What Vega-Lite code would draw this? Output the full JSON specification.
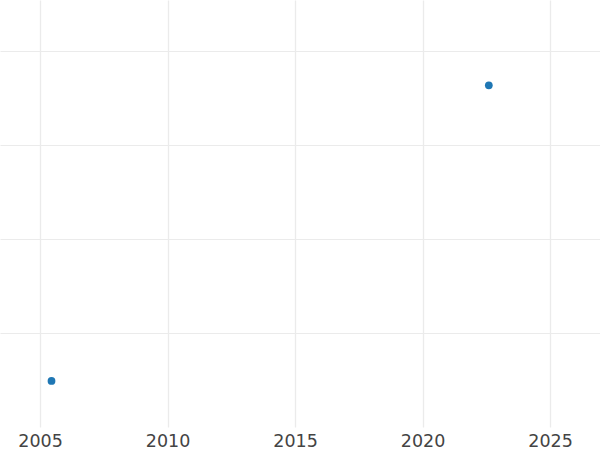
{
  "$schema": "https://vega.github.io/schema/vega-lite/v6.json",
  "width": 600,
  "height": 427,
  "padding": {"left": 0, "top": 0, "right": 0, "bottom": 23},
  "autosize": {"type": "none"},
  "background": "white",
  "data": {"values": [
    {"year": 2005.45, "value": 0.49},
    {"year": 2022.6, "value": 3.635}
  ]},
  "mark": {"type": "circle", "size": 60, "opacity": 1, "color": "#1f77b4"},
  "encoding": {
    "x": {"field": "year", "type": "quantitative",
      "scale": {"domain": [2003.43, 2026.96], "nice": false, "zero": false},
      "axis": {"values": [2005, 2010, 2015, 2020, 2025], "format": "d", "title": null,
        "domain": false, "ticks": false, "labelFontSize": 17.5, "labelColor": "#444444",
        "labelFont": "DejaVu Sans", "labelPadding": 5, "gridColor": "#ebebeb", "gridWidth": 1.3, "labelFlush": false}},
    "y": {"field": "value", "type": "quantitative",
      "scale": {"domain": [0, 4.543], "nice": false, "zero": true},
      "axis": {"values": [1, 2, 3, 4], "title": null, "labels": false, "domain": false, "ticks": false,
        "gridColor": "#ebebeb", "gridWidth": 1}}
  },
  "config": {"view": {"stroke": null}}
}
